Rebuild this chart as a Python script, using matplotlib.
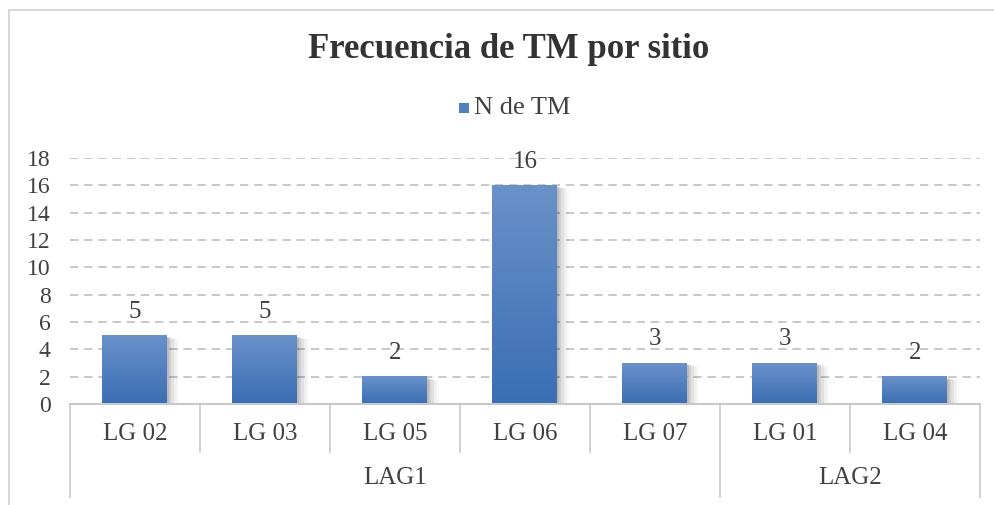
import matplotlib.pyplot as plt
import matplotlib.transforms as mtransforms
from matplotlib.patches import Rectangle
import numpy as np

# Data
sitios = ["LG 02", "LG 03", "LG 05", "LG 06", "LG 07", "LG 01", "LG 04"]
n_tm = [5, 5, 2, 16, 3, 3, 2]
grupos = ["LAG1", "LAG2"]
grupo_size = [5, 2]

plt.rcParams["font.family"] = ["Liberation Serif", "DejaVu Serif"]

W, H = 995, 505
fig = plt.figure(figsize=(W / 100, H / 100), dpi=100)

# outer chart frame
fig.patches.append(Rectangle((9 / W, -0.1), 1.2, 1 - 10 / H + 0.1, transform=fig.transFigure,
                             facecolor="none", edgecolor="#d0d0d0", linewidth=1.2, zorder=0))

x0, x1 = 70, 980
y0, y1 = 404, 158
ax = fig.add_axes([x0 / W, 1 - y0 / H, (x1 - x0) / W, (y0 - y1) / H])
ax.patch.set_alpha(0)

x = np.arange(len(sitios))
ax.set_yticks(range(0, 19, 2))
ax.tick_params(axis="y", length=0, pad=14, labelsize=17, labelcolor="#404040")
ax.set_xticks([])
for s in ax.spines.values():
    s.set_visible(False)

# grid
for yv in range(2, 19, 2):
    ax.axhline(yv, color="#bfbfbf", linestyle=(0, (5, 3.5)), linewidth=1.2, zorder=1)

# gradient bars with shadow
grad = np.linspace(0, 1, 256)
top = np.array([106, 145, 201]) / 255
bot = np.array([58, 110, 180]) / 255
img = (top[None, :] + (bot - top)[None, :] * grad[:, None])[:, None, :]
bw = 0.5
for xi, v in zip(x, n_tm):
    for k, a in enumerate([0.10, 0.08, 0.06, 0.04, 0.02]):
        ax.add_patch(Rectangle((xi - bw / 2 + 0.01 + k * 0.012, 0), bw + k * 0.008, v - 0.08 - k * 0.05,
                               facecolor="black", edgecolor="none", alpha=a, zorder=2))
    ax.imshow(img, extent=(xi - bw / 2, xi + bw / 2, 0, v), aspect="auto", zorder=3,
              interpolation="bilinear")
    ax.annotate(str(v), (xi, v), xytext=(0, 17), textcoords="offset points",
                ha="center", va="center", fontsize=18, color="#404040", zorder=4)
ax.set_xlim(-0.5, len(sitios) - 0.5)
ax.set_ylim(0, 18)

# category axis boxes
tr = mtransforms.blended_transform_factory(ax.transData, ax.transAxes)
lc = "#c8c8c8"
ax.plot([-0.5, len(sitios) - 0.5], [0, 0], color=lc, linewidth=1.5, transform=tr, clip_on=False, zorder=5)
row1 = (404 - 452) / (y0 - y1)
row2 = (404 - 497) / (y0 - y1)
bounds = np.cumsum([0] + grupo_size) - 0.5
for b in np.arange(-0.5, len(sitios), 1):
    bottom = row2 if b in bounds else row1
    ax.plot([b, b], [0, bottom], color=lc, linewidth=1.2, transform=tr, clip_on=False)
for xi, s in zip(x, sitios):
    ax.text(xi, (404 - 434) / (y0 - y1), s, transform=tr, ha="center", va="center",
            fontsize=18, color="#404040")
for g, a, b in zip(grupos, bounds[:-1], bounds[1:]):
    ax.text((a + b) / 2, (404 - 478) / (y0 - y1), g, transform=tr, ha="center", va="center",
            fontsize=18, color="#404040")

# title and legend
fig.text(509 / W, 1 - 49 / H, "Frecuencia de TM por sitio", ha="center", va="center",
         fontsize=25, fontweight="bold", color="#333333")
fig.patches.append(Rectangle((459 / W, 1 - 113 / H), 10 / W, 10 / H, transform=fig.transFigure,
                             facecolor="#4f7fc0", edgecolor="none"))
fig.text(474 / W, 1 - 108 / H, "N de TM", ha="left", va="center", fontsize=19, color="#404040")

fig.savefig("out.png", dpi=100)
